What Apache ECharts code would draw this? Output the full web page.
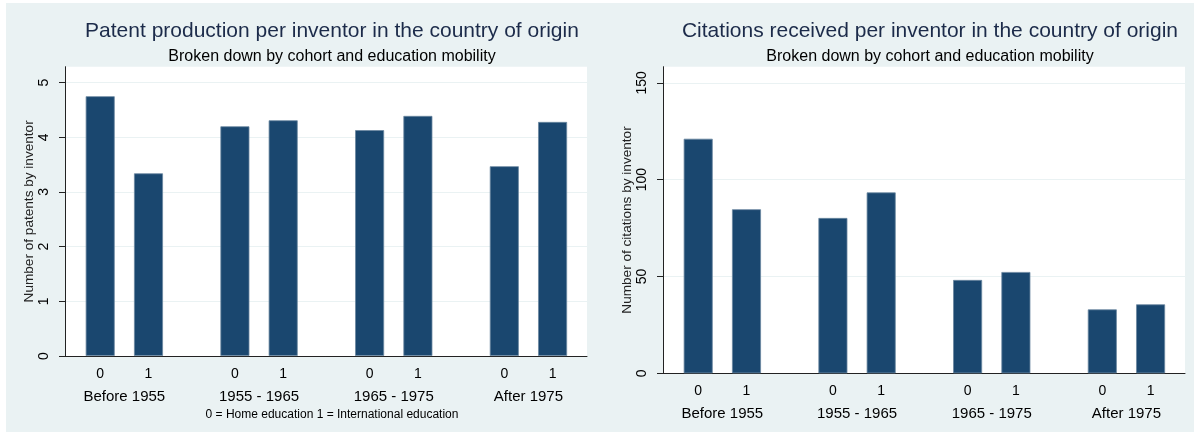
<!DOCTYPE html>
<html>
<head>
<meta charset="utf-8">
<title>Patents and citations per inventor</title>
<script src="https://cdn.jsdelivr.net/npm/echarts@6/dist/echarts.min.js"></script>
<style>
  html, body { margin: 0; padding: 0; background: #fff; }
  #chart { width: 1194px; height: 436px; }
</style>
</head>
<body>
<div id="chart"></div>
<script>
// data
const cohorts = ['Before 1955', '1955 - 1965', '1965 - 1975', 'After 1975']
const eduCodes = ['0', '1'] // 0 = home education, 1 = international education
const patentsHome = [4.75, 4.20, 4.13, 3.47]
const patentsIntl = [3.34, 4.31, 4.39, 4.28]
const citesHome = [121.1, 80.2, 48.2, 33.0]
const citesIntl = [84.7, 93.4, 52.3, 35.6]
const patentTicks = [0, 1, 2, 3, 4, 5]
const citeTicks = [0, 50, 100, 150]

const FONT = "'Liberation Sans', Arial, sans-serif"
const BG = '#eaf2f3'
const NAVY = '#1a476f'
const AXIS = '#222'

const chart = echarts.init(document.getElementById('chart'))

// one panel = a frame grid (white area, y axis, baseline) + a bar grid (bars, x labels)
const panels = [
  { frameLeft: 65, barLeft: 57, top: 66.7, height: 289.3, max: 5.29, ticks: patentTicks,
    home: patentsHome, intl: patentsIntl, yName: 'Number of patents by inventor' },
  { frameLeft: 663, barLeft: 655, top: 66.7, height: 306.6, max: 158.3, ticks: citeTicks,
    home: citesHome, intl: citesIntl, yName: 'Number of citations by inventor' }
]

const grid = []
const xAxis = []
const yAxis = []
const series = []

panels.forEach(p => {
  const fg = grid.length
  grid.push({ left: p.frameLeft, top: p.top, width: 522, height: p.height, show: true,
    backgroundColor: '#fff', borderWidth: 0 })
  grid.push({ left: p.barLeft, top: p.top, width: 538.8, height: p.height })

  xAxis.push({ gridIndex: fg, type: 'category', data: cohorts,
    axisLine: { lineStyle: { color: AXIS, width: 1 } },
    axisTick: { show: false }, axisLabel: { show: false }, splitLine: { show: false } })
  xAxis.push({ gridIndex: fg + 1, type: 'category', data: cohorts,
    axisLine: { show: false }, axisTick: { show: false },
    axisLabel: {
      margin: 8,
      formatter: v => '{n|' + eduCodes[0] + '}{n|' + eduCodes[1] + '}\n{g|' + v + '}',
      rich: {
        n: { width: 48.3, align: 'center', fontSize: 14, lineHeight: 20, color: '#000', fontFamily: FONT },
        g: { fontSize: 15, lineHeight: 25, color: '#000', fontFamily: FONT }
      }
    } })

  yAxis.push({ gridIndex: fg, type: 'value', min: 0, max: p.max,
    name: p.yName, nameLocation: 'middle', nameGap: 28,
    nameTextStyle: { fontSize: 13.6, color: '#222', fontFamily: FONT },
    axisLine: { show: true, lineStyle: { color: AXIS, width: 1 } },
    axisTick: { show: true, length: 6, customValues: p.ticks, lineStyle: { color: AXIS } },
    axisLabel: { rotate: 90, margin: 14, customValues: p.ticks, fontSize: 14,
      color: '#000', fontFamily: FONT },
    splitLine: { show: true, lineStyle: { color: BG, width: 1 } } })
  yAxis.push({ gridIndex: fg + 1, type: 'value', min: 0, max: p.max, show: false,
    splitLine: { show: false } })

  const barStyle = { color: NAVY, borderColor: '#6a86a0', borderWidth: 0.8 }
  series.push({ type: 'bar', name: 'Home education', xAxisIndex: fg + 1, yAxisIndex: fg + 1,
    data: p.home, barWidth: 29, barGap: '66.5%', itemStyle: barStyle, z: 5 })
  series.push({ type: 'bar', name: 'International education', xAxisIndex: fg + 1, yAxisIndex: fg + 1,
    data: p.intl, barWidth: 29, barGap: '66.5%', itemStyle: barStyle, z: 5 })
})

const titleStyle = { fontSize: 21, fontWeight: 'normal', color: '#1c2b4a', fontFamily: FONT }
const subStyle = { fontSize: 16, fontWeight: 'normal', color: '#000', fontFamily: FONT }

const option = {
  animation: false,
  backgroundColor: '#fff',
  graphic: [{
    type: 'rect', z: -100, silent: true,
    shape: { x: 6, y: 3, width: 1188, height: 429 },
    style: { fill: BG }
  }],
  title: [
    { text: 'Patent production per inventor in the country of origin', left: 327, top: 16,
      textAlign: 'center', textStyle: titleStyle },
    { text: 'Broken down by cohort and education mobility', left: 327, top: 44,
      textAlign: 'center', textStyle: subStyle },
    { text: 'Citations received per inventor in the country of origin', left: 925, top: 16,
      textAlign: 'center', textStyle: titleStyle },
    { text: 'Broken down by cohort and education mobility', left: 925, top: 44,
      textAlign: 'center', textStyle: subStyle },
    { text: '0 = Home education 1 = International education', left: 327, top: 404,
      textAlign: 'center', textStyle: { fontSize: 12, fontWeight: 'normal', color: '#000', fontFamily: FONT } }
  ],
  grid: grid,
  xAxis: xAxis,
  yAxis: yAxis,
  series: series
}

chart.setOption(option)
</script>
</body>
</html>
